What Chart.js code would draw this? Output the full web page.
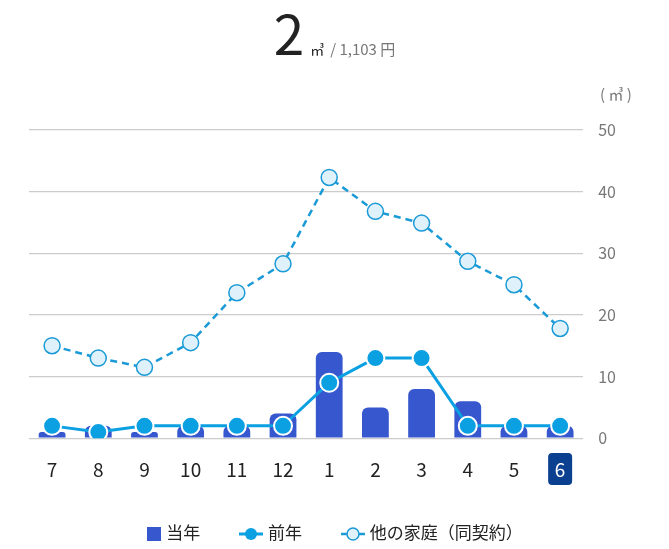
<!DOCTYPE html>
<html>
<head>
<meta charset="utf-8">
<script src="https://cdn.jsdelivr.net/npm/chart.js@4"></script>
<style>
  html, body { margin: 0; padding: 0; background: #fff; }
  body { width: 669px; height: 549px; position: relative; overflow: hidden;
         font-family: "Noto Sans CJK JP", "Noto Sans", sans-serif; }
  #head { position: absolute; top: 0px; left: 0; width: 669px; text-align: center; white-space: nowrap;
          line-height: 62px; height: 62px; }
  #head .big { font-size: 55px; color: #222; }
  #head .unit { font-size: 14px; color: #222; margin-left: 6px; }
  #head .yen { font-size: 15px; color: #777; margin-left: 6px; }
  #wrap { position: absolute; left: 0; top: 0; width: 669px; height: 549px; }
  #yunit { position: absolute; left: 600px; top: 83px; font-size: 15px; color: #777; }
  #legend { position: absolute; top: 516px; left: 0; width: 669px; text-align: center;
            font-size: 17px; color: #222; white-space: nowrap; }
  #legend span.item { display: inline-block; margin: 0 17px; vertical-align: middle; }
  #legend svg { vertical-align: -3px; margin-right: 4px; }
</style>
</head>
<body>
<div id="wrap"><canvas id="usageChart" width="669" height="549"></canvas></div>
<div id="head"><span class="big">2</span><span class="unit">㎥</span><span class="yen">/ 1,103 円</span></div>
<div id="yunit">(&nbsp;㎥&nbsp;)</div>
<div id="legend">
  <span class="item"><svg width="16" height="16"><rect x="1" y="1" width="14" height="14" fill="#3757cf"/></svg>当年</span>
  <span class="item"><svg width="26" height="16"><line x1="1" y1="8" x2="25" y2="8" stroke="#0aa0e2" stroke-width="3"/><circle cx="13" cy="8" r="6" fill="#0aa0e2"/></svg>前年</span>
  <span class="item"><svg width="26" height="16"><line x1="1" y1="8" x2="25" y2="8" stroke="#1a9ad6" stroke-width="2.5"/><circle cx="13" cy="8" r="6" fill="#dff1fa" stroke="#1a9ad6" stroke-width="1.5"/></svg>他の家庭（同契約）</span>
</div>
<script>
// months shown on the x axis
const months = ['7', '8', '9', '10', '11', '12', '1', '2', '3', '4', '5', '6'];
// usage in m3
const thisYear = [1, 2, 1, 2, 2, 4, 14, 5, 8, 6, 2, 2];
const lastYear = [2, 1, 2, 2, 2, 2, 9, 13, 13, 2, 2, 2];
const otherHomes = [15, 13, 11.5, 15.5, 23.6, 28.3, 42.3, 36.8, 34.9, 28.7, 24.9, 17.8];
const yTicks = [0, 10, 20, 30, 40, 50];

const currentIndex = months.length - 1;

// draws the dark rounded box behind the current month label
const highlightTick = {
    id: 'highlightTick',
    afterDraw(chart) {
        const xs = chart.scales.x;
        const ctx = chart.ctx;
        const x = xs.getPixelForTick(currentIndex);
        const y = 469;
        ctx.save();
        ctx.fillStyle = '#0b3f8f';
        ctx.beginPath();
        ctx.roundRect(x - 12, y - 16, 24, 32, 4);
        ctx.fill();
        ctx.fillStyle = '#fff';
        ctx.font = '19px "Noto Sans CJK JP", "Noto Sans", sans-serif';
        ctx.textAlign = 'center';
        ctx.textBaseline = 'middle';
        ctx.fillText(months[currentIndex], x, y + 1);
        ctx.restore();
    }
};

new Chart(document.getElementById('usageChart'), {
    type: 'bar',
    data: {
        labels: months,
        datasets: [
            {
                type: 'line',
                label: '他の家庭（同契約）',
                data: otherHomes,
                borderColor: '#1a9ad6',
                borderWidth: 2.5,
                borderDash: [7, 5],
                pointRadius: 8,
                pointBorderWidth: 1.5,
                pointBackgroundColor: '#dff1fa',
                pointBorderColor: '#1a9ad6',
                tension: 0,
                order: 1
            },
            {
                type: 'line',
                label: '前年',
                data: lastYear,
                borderColor: '#0aa0e2',
                borderWidth: 3,
                pointRadius: 9,
                pointBorderWidth: 2,
                pointBackgroundColor: '#0aa0e2',
                pointBorderColor: '#fff',
                tension: 0,
                order: 2
            },
            {
                label: '当年',
                data: thisYear,
                backgroundColor: '#3757cf',
                borderRadius: { topLeft: 6, topRight: 6 },
                borderSkipped: 'bottom',
                barPercentage: 0.58,
                categoryPercentage: 1,
                order: 3
            }
        ]
    },
    options: {
        responsive: false,
        animation: false,
        events: [],
        layout: { padding: { top: 130, left: 29, right: 38, bottom: 56 } },
        plugins: {
            legend: { display: false },
            tooltip: { enabled: false }
        },
        scales: {
            x: {
                grid: { display: false },
                border: { display: false },
                ticks: {
                    color: (c) => c.index === currentIndex ? 'rgba(0,0,0,0)' : '#222',
                    font: { size: 19, family: '"Noto Sans CJK JP", "Noto Sans", sans-serif' },
                    padding: 12,
                    maxRotation: 0
                }
            },
            y: {
                position: 'right',
                min: 0,
                max: 50,
                afterBuildTicks: (axis) => { axis.ticks = yTicks.map(v => ({ value: v })); },
                grid: { color: '#cccccc', lineWidth: 1.2, drawTicks: false },
                border: { display: false },
                ticks: {
                    color: '#777',
                    font: { size: 16, family: '"Noto Sans CJK JP", "Noto Sans", sans-serif' },
                    padding: 15
                }
            }
        }
    },
    plugins: [highlightTick]
});
</script>
</body>
</html>
